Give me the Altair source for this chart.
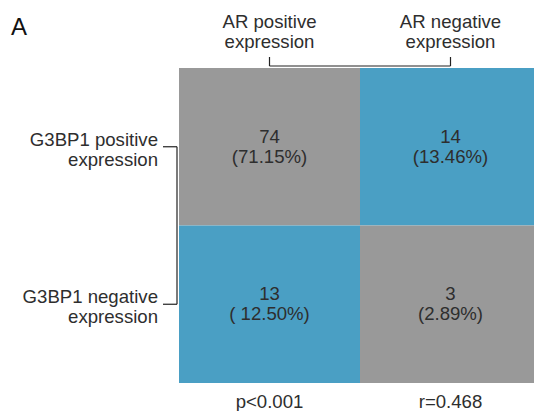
import altair as alt
import pandas as pd

# ---- data ----
col_labels = ["AR positive\nexpression", "AR negative\nexpression"]
row_labels = ["G3BP1 positive\nexpression", "G3BP1 negative\nexpression"]
col_keys = ["ARpos", "ARneg"]
row_keys = ["G3pos", "G3neg"]

cell_cols = ["ARpos", "ARneg", "ARpos", "ARneg"]
cell_rows = ["G3pos", "G3pos", "G3neg", "G3neg"]
cell_counts = ["74", "14", "13", "3"]
cell_pcts = ["(71.15%)", "(13.46%)", "( 12.50%)", "(2.89%)"]
cell_group = ["concordant", "discordant", "discordant", "concordant"]

stat_labels = ["p<0.001", "r=0.468"]
panel_letter = ["A"]

GRAY = "#999999"
BLUE = "#4a9fc4"
TEXT = "#2e2e2e"
FONT = "Liberation Sans"
FS = 18.6

cells = pd.DataFrame({
    "col": cell_cols,
    "row": cell_rows,
    "label": [f"{c}\n{p}" for c, p in zip(cell_counts, cell_pcts)],
    "group": cell_group,
})
cols_df = pd.DataFrame({"col": col_keys, "label": col_labels, "stat": stat_labels})
rows_df = pd.DataFrame({"row": row_keys, "label": row_labels})
span_cols = pd.DataFrame({"a": [col_keys[0]], "b": [col_keys[1]]})
span_rows = pd.DataFrame({"a": [row_keys[0]], "b": [row_keys[1]]})
letter_df = pd.DataFrame({"t": panel_letter})

# grid is 362 px wide; the page clips it at the window edge
xs = alt.Scale(domain=col_keys, paddingInner=0, paddingOuter=0, range=[0, 362])
ys = alt.Scale(domain=row_keys, paddingInner=0, paddingOuter=0)

rects = alt.Chart(cells).mark_rect(strokeWidth=0).encode(
    x=alt.X("col:N", scale=xs, axis=None),
    y=alt.Y("row:N", scale=ys, axis=None),
    color=alt.Color("group:N", scale=alt.Scale(domain=["concordant", "discordant"], range=[GRAY, BLUE]), legend=None),
)

cell_text = alt.Chart(cells).mark_text(
    font=FONT, fontSize=FS, color=TEXT, lineBreak="\n", lineHeight=20, baseline="middle", align="center", dy=-10
).encode(
    x=alt.X("col:N", scale=xs, axis=None),
    y=alt.Y("row:N", scale=ys, axis=None),
    text="label:N",
)

top_text = alt.Chart(cols_df).mark_text(
    font=FONT, fontSize=FS, color=TEXT, lineBreak="\n", lineHeight=20, baseline="middle", align="center"
).encode(
    x=alt.X("col:N", scale=xs, axis=None),
    y=alt.value(-46),
    text="label:N",
)

bottom_text = alt.Chart(cols_df).mark_text(
    font=FONT, fontSize=FS, color=TEXT, baseline="middle", align="center"
).encode(
    x=alt.X("col:N", scale=xs, axis=None),
    y=alt.value(334),
    text="stat:N",
)

left_text = alt.Chart(rows_df).mark_text(
    font=FONT, fontSize=FS, color=TEXT, lineBreak="\n", lineHeight=20, baseline="middle", align="right", dy=-7
).encode(
    y=alt.Y("row:N", scale=ys, axis=None),
    x=alt.value(-21),
    text="label:N",
)

top_h = alt.Chart(span_cols).mark_rule(color="#222222", strokeWidth=1.2).encode(
    x=alt.X("a:N", scale=xs, axis=None),
    x2="b:N",
    y=alt.value(-2),
)
top_v = alt.Chart(cols_df).mark_rule(color="#222222", strokeWidth=1.2).encode(
    x=alt.X("col:N", scale=xs, axis=None),
    y=alt.value(-11),
    y2=alt.value(-2),
)
left_v = alt.Chart(span_rows).mark_rule(color="#222222", strokeWidth=1.2).encode(
    y=alt.Y("a:N", scale=ys, axis=None),
    y2="b:N",
    x=alt.value(-2),
)
left_h = alt.Chart(rows_df).mark_rule(color="#222222", strokeWidth=1.2).encode(
    y=alt.Y("row:N", scale=ys, axis=None),
    x=alt.value(-16),
    x2=alt.value(-2),
)

letter = alt.Chart(letter_df).mark_text(
    font=FONT, fontSize=24, color="#111111", baseline="middle", align="center"
).encode(
    x=alt.value(-160),
    y=alt.value(-40),
    text="t:N",
)

chart = alt.layer(
    rects, cell_text, top_text, bottom_text, left_text, top_h, top_v, left_v, left_h, letter
).properties(
    width=355,
    height=315,
    padding={"left": 171, "top": 60, "right": 0, "bottom": 28},
    autosize=alt.AutoSizeParams(type="none"),
).configure_view(stroke=None)

chart.save("out.html", embed_options={"renderer": "svg", "actions": False})
